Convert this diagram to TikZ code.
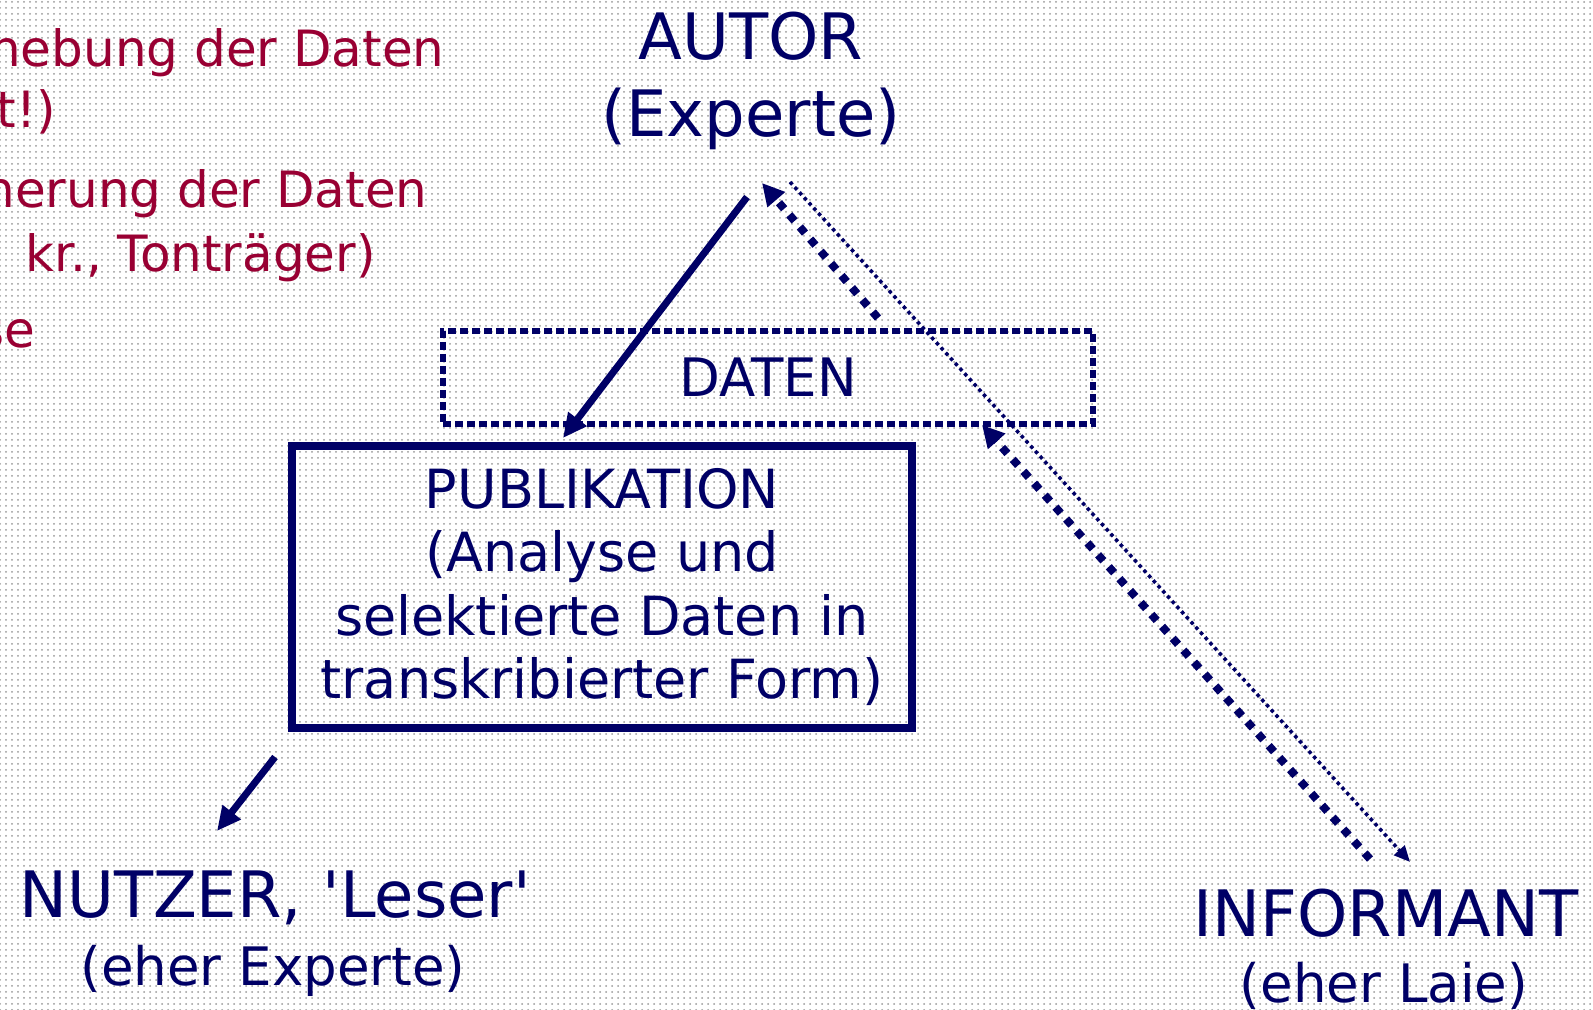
\documentclass[tikz,border=0pt]{standalone}
\usepackage{fontspec}
\setmainfont{DejaVu Sans}
\usetikzlibrary{arrows.meta, patterns}
\definecolor{navy}{RGB}{0,0,102}
\definecolor{wine}{RGB}{153,0,51}
\tikzset{
  role/.style={
    text=navy,
    inner sep=0pt,
    anchor=base,
    font=\fontsize{32pt}{38pt}\selectfont,
  },
  role note/.style={
    role,
    font=\fontsize{26.5pt}{32pt}\selectfont,
  },
  data box/.style={
    draw=navy,
    line width=3pt,
    dash pattern=on 4pt off 2pt,
    minimum width=325pt,
    minimum height=46.5pt,
    inner sep=0pt,
    text=navy,
    font=\fontsize{26.5pt}{32pt}\selectfont,
  },
  publ box/.style={
    draw=navy,
    line width=4pt,
    minimum width=310.25pt,
    minimum height=140.75pt,
    inner sep=0pt,
    align=center,
    text=navy,
    font=\fontsize{27pt}{31.75pt}\selectfont,
  },
  list text/.style={
    text=wine,
    inner sep=0pt,
    anchor=base east,
    font=\fontsize{25pt}{30pt}\selectfont,
  },
  flow/.style={draw=navy, line width=3.5pt, -{Triangle[length=12pt, width=11pt]}},
  feedback/.style={draw=navy, line width=4pt, dash pattern=on 4pt off 4pt, -{Triangle[length=11pt, width=11pt]}},
  query/.style={draw=navy, line width=1.75pt, dash pattern=on 1.75pt off 1.75pt, -{Triangle[length=8pt, width=7pt]}},
}
\begin{document}
\begin{tikzpicture}[x=0.5pt, y=-0.5pt]
      \useasboundingbox (0,0) rectangle (1593,1010);
      \fill[white] (0,0) rectangle (1593,1010);
      \fill[pattern=dots, pattern color=black!40] (0,0) rectangle (1593,1010);

      \node[list text] (l1) at (445,67) {hebung der Daten};
      \node[list text] (l2) at (56,128) {ft!)};
      \node[list text] (l3) at (428,208) {herung der Daten};
      \node[list text] (l4) at (376,272) {kr., Tonträger)};
      \node[list text] (l5) at (36,347) {se};

      \node[role] (autor) at (751,60) {AUTOR};
      \node[role] (autor note) at (751,137) {(Experte)};
      \node[data box] (daten) at (768,377.5) {DATEN};
      \node[publ box] (publ) at (602,587) {PUBLIKATION\\(Analyse und\\selektierte Daten in\\transkribierter Form)};
      \node[role] (nutzer) at (275,917) {NUTZER, \textquotesingle Leser\textquotesingle};
      \node[role note] (nutzer note) at (273,985) {(eher Experte)};
      \node[role] (informant) at (1386,936) {INFORMANT};
      \node[role note] (informant note) at (1384,1002) {(eher Laie)};

      \coordinate (autor out) at (747,197);
      \coordinate (autor in) at (762,183);
      \coordinate (autor ask) at (790,182);
      \coordinate (publ in) at (563,438);
      \coordinate (publ out) at (275,757);
      \coordinate (nutzer in) at (217,831);
      \coordinate (daten top) at (878,318);
      \coordinate (daten in) at (982,425);
      \coordinate (informant out) at (1370,859);
      \coordinate (informant in) at (1410,862);

      \draw[query] (autor ask) -- (informant in);
      \draw[feedback] (informant out) -- (daten in);
      \draw[feedback] (daten top) -- (autor in);
      \draw[flow] (autor out) -- (publ in);
      \draw[flow] (publ out) -- (nutzer in);
    \end{tikzpicture}
\end{document}
